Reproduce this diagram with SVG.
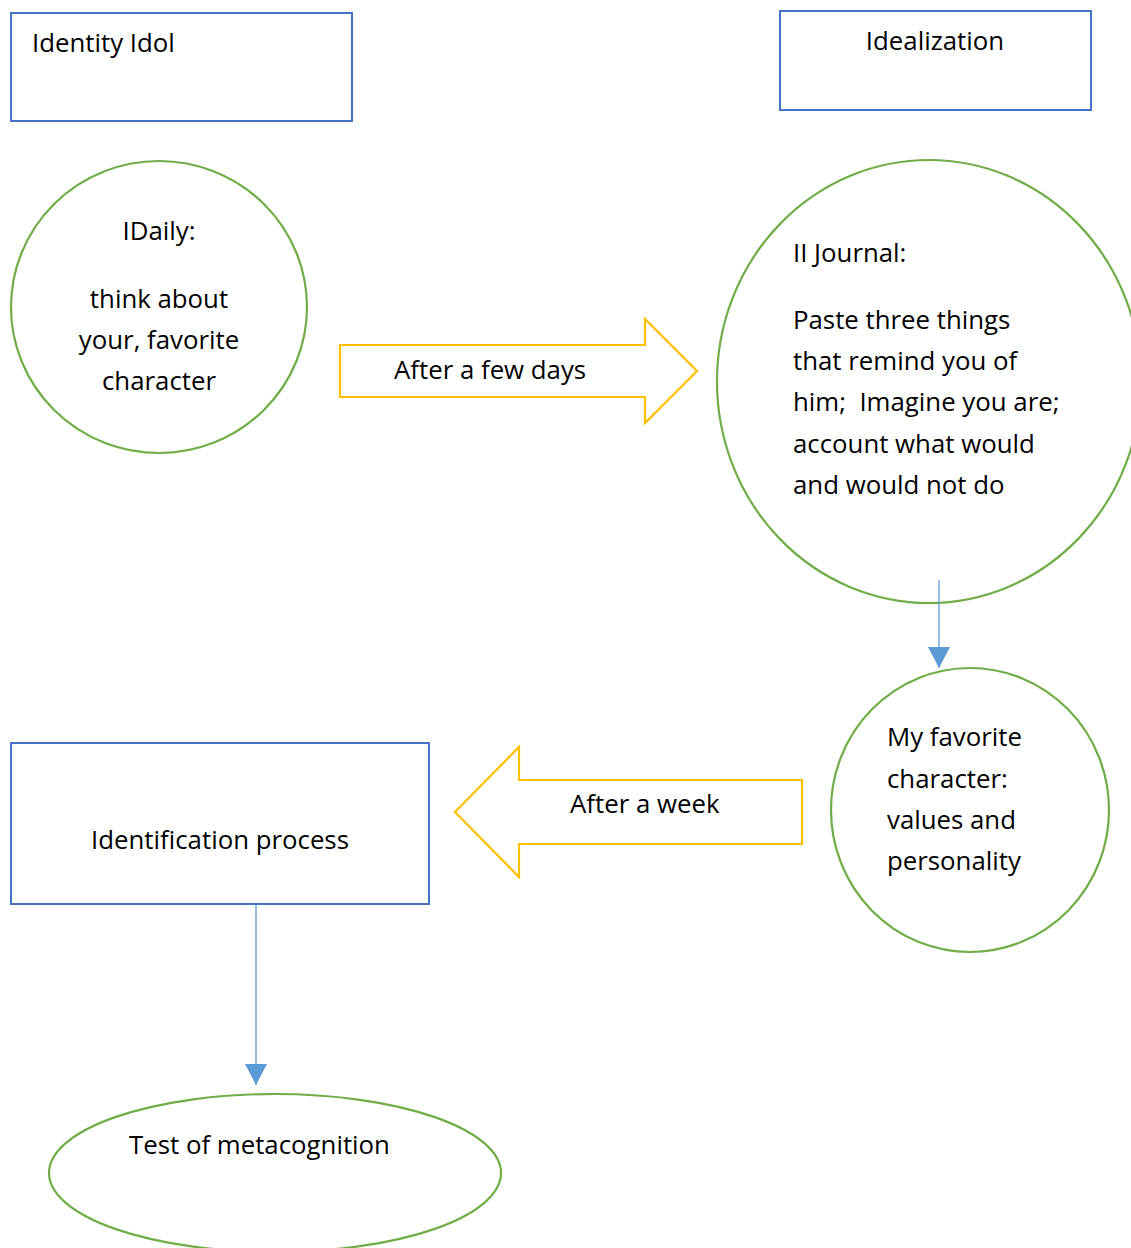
<svg xmlns="http://www.w3.org/2000/svg" width="1131" height="1248" viewBox="0 0 1131 1248">
<defs>
<style>
.box{fill:#fff;stroke:#4472C4;stroke-width:2}
.circ{fill:#fff;stroke:#70AD47;stroke-width:2.2}
.barrow{fill:#fff;stroke:#FFC000;stroke-width:2.2}
.conn{stroke:#5B9BD5;stroke-width:1.3;fill:none}
text{font-family:"Open Sans","Liberation Sans",sans-serif;font-size:25.8px;fill:#000}
.mid{text-anchor:middle}
</style>
<marker id="ah" markerUnits="userSpaceOnUse" markerWidth="22" markerHeight="22" viewBox="0 0 22 22" refX="21" refY="11" orient="auto">
<path d="M0,0 L21,11 L0,22 Z" fill="#5B9BD5"/>
</marker>
</defs>
<rect width="1131" height="1248" fill="#fff"/>
<g id="identity-idol">
<rect class="box" x="11" y="13" width="341" height="108"/>
<text x="32" y="52">Identity Idol</text>
</g>
<g id="idealization">
<rect class="box" x="780" y="11" width="311" height="99"/>
<text class="mid" x="935" y="50">Idealization</text>
</g>
<g id="daily">
<ellipse class="circ" cx="159" cy="307" rx="148" ry="146"/>
<text class="mid" x="159" y="240">IDaily:</text>
<text class="mid" x="159" y="308">think about</text>
<text class="mid" x="159" y="349">your, favorite</text>
<text class="mid" x="159" y="390">character</text>
</g>
<g id="after-few-days">
<path class="barrow" d="M340,345 L645,345 L645,319 L697,371 L645,423 L645,397 L340,397 Z"/>
<text x="394" y="379">After a few days</text>
</g>
<g id="journal">
<ellipse class="circ" cx="929" cy="381.5" rx="212" ry="221.5"/>
<text x="793" y="262">II Journal:</text>
<text x="793" y="329">Paste three things</text>
<text x="793" y="370">that remind you of</text>
<text x="793" y="411" xml:space="preserve">him;  Imagine you are;</text>
<text x="793" y="453">account what would</text>
<text x="793" y="494">and would not do</text>
</g>
<g id="favorite">
<ellipse class="circ" cx="970" cy="810" rx="139" ry="142"/>
<text x="887" y="746">My favorite</text>
<text x="887" y="788">character:</text>
<text x="887" y="829">values and</text>
<text x="887" y="870">personality</text>
</g>
<g id="after-week">
<path class="barrow" d="M802,780 L519,780 L519,747 L455,812 L519,877 L519,844 L802,844 Z"/>
<text x="570" y="813">After a week</text>
</g>
<g id="identification">
<rect class="box" x="11" y="743" width="418" height="161"/>
<text class="mid" x="220" y="849">Identification process</text>
</g>
<g id="metacognition">
<ellipse class="circ" cx="275" cy="1173" rx="226" ry="79"/>
<text x="129" y="1154">Test of metacognition</text>
</g>
<g id="connectors">
<line class="conn" x1="939" y1="580" x2="939" y2="668" marker-end="url(#ah)"/>
<line class="conn" x1="256" y1="905" x2="256" y2="1085" marker-end="url(#ah)"/>
</g>
</svg>
